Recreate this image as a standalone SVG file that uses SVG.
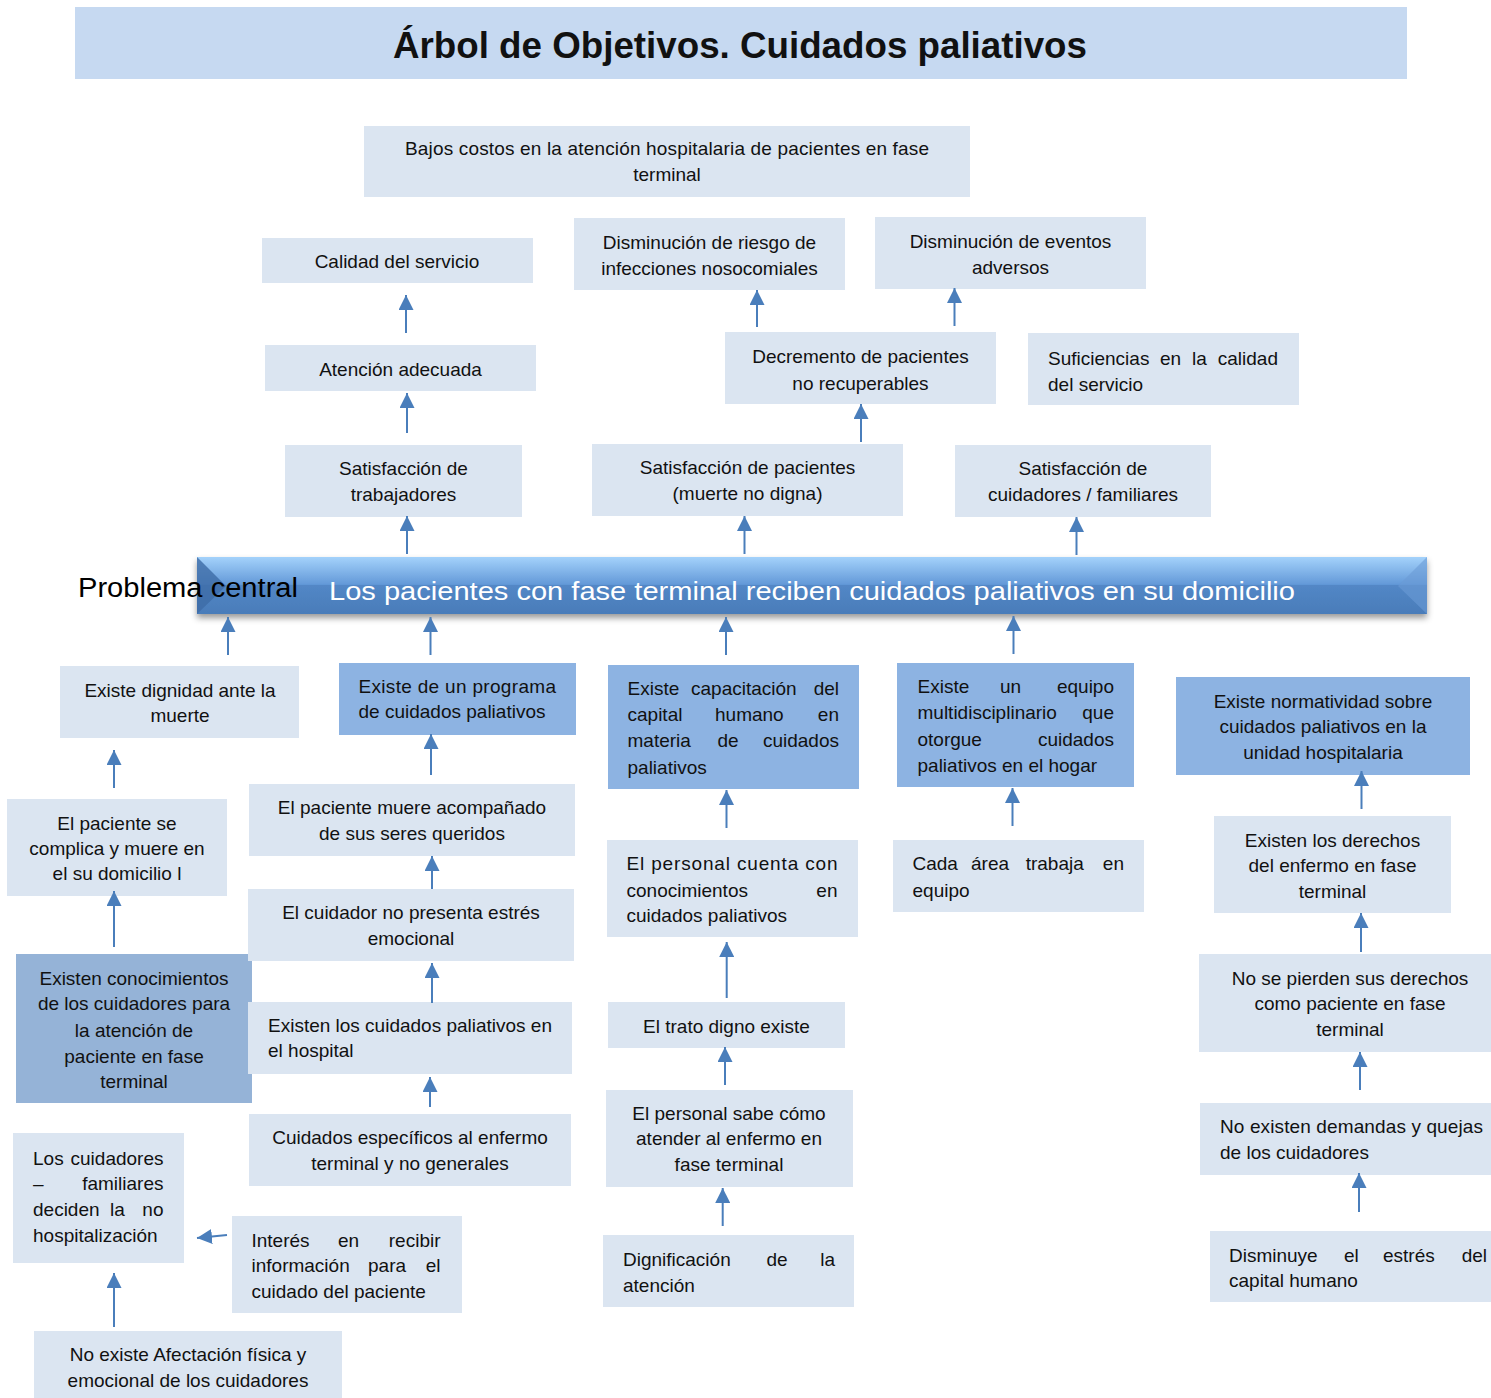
<svg xmlns="http://www.w3.org/2000/svg" width="1491" height="1398" viewBox="0 0 1491 1398">
<defs>
<style>
.n{font-family:"Liberation Sans",Arial,sans-serif;font-size:19px;fill:#111}
.m{text-anchor:middle}
.e{text-anchor:end}
.lt{fill:#dbe5f1}
.dk{fill:#8db3e2}
.md{fill:#95b3d7}
.ar line{stroke:#4a7ebb;stroke-width:2;marker-end:url(#ah)}
</style>
<marker id="ah" markerUnits="userSpaceOnUse" markerWidth="15" markerHeight="15" viewBox="0 0 15 15" refX="15" refY="7.5" orient="auto"><path d="M0,0 L15,7.5 L0,15 z" fill="#4a7ebb"/></marker>
<linearGradient id="bg" x1="0" y1="0" x2="0" y2="1">
<stop offset="0" stop-color="#a4d2fb"/><stop offset="0.48" stop-color="#6399d8"/><stop offset="0.5" stop-color="#5287c6"/><stop offset="1" stop-color="#4a7cb9"/>
</linearGradient>
<filter id="sh" x="-5%" y="-30%" width="110%" height="170%"><feDropShadow dx="0" dy="4" stdDeviation="3" flood-color="#000" flood-opacity="0.4"/></filter>
</defs>
<rect width="1491" height="1398" fill="#fff"/>

<g id="title">
<rect x="75" y="7" width="1332" height="72" fill="#c6d9f1"/>
<text x="740" y="58" class="m" font-family="'Liberation Sans',Arial,sans-serif" font-size="36" font-weight="bold" fill="#111" textLength="694" lengthAdjust="spacingAndGlyphs">Árbol de Objetivos. Cuidados paliativos</text>
</g>

<g id="n1"><rect class="lt" x="364" y="126" width="606" height="71"/>
<text class="n m"><tspan x="667" y="155" textLength="524">Bajos costos en la atención hospitalaria de pacientes en fase</tspan><tspan x="667" y="181">terminal</tspan></text></g>

<g id="n2"><rect class="lt" x="262" y="238" width="271" height="45"/>
<text class="n m" x="397" y="268">Calidad del servicio</text></g>

<g id="n3"><rect class="lt" x="574" y="218" width="271" height="72"/>
<text class="n m"><tspan x="709.5" y="249">Disminución de riesgo de</tspan><tspan x="709.5" y="275">infecciones nosocomiales</tspan></text></g>

<g id="n4"><rect class="lt" x="875" y="217" width="271" height="72"/>
<text class="n m"><tspan x="1010.5" y="248">Disminución de eventos</tspan><tspan x="1010.5" y="274">adversos</tspan></text></g>

<g id="n5"><rect class="lt" x="265" y="345" width="271" height="46"/>
<text class="n m" x="400.5" y="376">Atención adecuada</text></g>

<g id="n6"><rect class="lt" x="725" y="332" width="271" height="72"/>
<text class="n m"><tspan x="860.5" y="363">Decremento de pacientes</tspan><tspan x="860.5" y="390">no recuperables</tspan></text></g>

<g id="n7"><rect class="lt" x="1028" y="333" width="271" height="72"/>
<text class="n"><tspan x="1048" y="365">Suficiencias</tspan> <tspan x="1160" y="365">en</tspan> <tspan x="1192" y="365">la</tspan> <tspan x="1278" y="365" class="e">calidad</tspan><tspan x="1048" y="391">del servicio</tspan></text></g>

<g id="n8"><rect class="lt" x="285" y="445" width="237" height="72"/>
<text class="n m"><tspan x="403.5" y="475">Satisfacción de</tspan><tspan x="403.5" y="501">trabajadores</tspan></text></g>

<g id="n9"><rect class="lt" x="592" y="444" width="311" height="72"/>
<text class="n m"><tspan x="747.5" y="474">Satisfacción de pacientes</tspan><tspan x="747.5" y="500">(muerte no digna)</tspan></text></g>

<g id="n10"><rect class="lt" x="955" y="445" width="256" height="72"/>
<text class="n m"><tspan x="1083" y="475">Satisfacción de</tspan><tspan x="1083" y="501">cuidadores / familiares</tspan></text></g>

<g id="central">
<g filter="url(#sh)">
<rect x="197" y="557" width="1230" height="57" fill="url(#bg)"/>
</g>
<polygon points="197,557 226,586 197,614" fill="#3d6ba6" opacity="0.8"/>
<polygon points="1427,557 1398,586 1427,614" fill="#6a9bd6" opacity="0.6"/>
<text x="329" y="600" font-family="'Liberation Sans',Arial,sans-serif" font-size="26" fill="#fff" textLength="966" lengthAdjust="spacingAndGlyphs">Los pacientes con fase terminal reciben cuidados paliativos en su domicilio</text>
<text x="78" y="597" font-family="'Liberation Sans',Arial,sans-serif" font-size="27" fill="#000" textLength="220" lengthAdjust="spacingAndGlyphs">Problema central</text>
</g>

<g id="n11"><rect class="lt" x="60" y="666" width="239" height="72"/>
<text class="n m"><tspan x="180" y="697">Existe dignidad ante la</tspan><tspan x="180" y="722">muerte</tspan></text></g>

<g id="n12"><rect class="dk" x="339" y="663" width="237" height="72"/>
<text class="n"><tspan x="358.5" y="693" textLength="197.5">Existe de un programa</tspan><tspan x="358.5" y="718">de cuidados paliativos</tspan></text></g>

<g id="n13"><rect class="dk" x="608" y="665" width="251" height="124"/>
<text class="n"><tspan x="627.5" y="695">Existe</tspan> <tspan x="691" y="695">capacitación</tspan> <tspan x="839" y="695" class="e">del</tspan><tspan x="627.5" y="721">capital</tspan> <tspan x="715" y="721">humano</tspan> <tspan x="839" y="721" class="e">en</tspan><tspan x="627.5" y="747">materia</tspan> <tspan x="717.5" y="747">de</tspan> <tspan x="839" y="747" class="e">cuidados</tspan><tspan x="627.5" y="774">paliativos</tspan></text></g>

<g id="n14"><rect class="dk" x="897" y="663" width="237" height="124"/>
<text class="n"><tspan x="917.5" y="693">Existe</tspan> <tspan x="1000" y="693">un</tspan> <tspan x="1114" y="693" class="e">equipo</tspan><tspan x="917.5" y="719">multidisciplinario</tspan> <tspan x="1114" y="719" class="e">que</tspan><tspan x="917.5" y="746">otorgue</tspan> <tspan x="1114" y="746" class="e">cuidados</tspan><tspan x="917.5" y="772">paliativos en el hogar</tspan></text></g>

<g id="n15"><rect class="dk" x="1176" y="677" width="294" height="98"/>
<text class="n m"><tspan x="1323" y="708">Existe normatividad sobre</tspan><tspan x="1323" y="733">cuidados paliativos en la</tspan><tspan x="1323" y="759">unidad hospitalaria</tspan></text></g>

<g id="n16"><rect class="lt" x="7" y="799" width="220" height="97"/>
<text class="n m"><tspan x="117" y="830">El paciente se</tspan><tspan x="117" y="855">complica y muere en</tspan><tspan x="117" y="880">el su domicilio l</tspan></text></g>

<g id="n17"><rect class="lt" x="249" y="784" width="326" height="72"/>
<text class="n m"><tspan x="412" y="814">El paciente muere acompañado</tspan><tspan x="412" y="840">de sus seres queridos</tspan></text></g>

<g id="n18"><rect class="lt" x="607" y="840" width="251" height="97"/>
<text class="n"><tspan x="626.5" y="870" textLength="211">El personal cuenta con</tspan><tspan x="626.5" y="897">conocimientos</tspan> <tspan x="837.5" y="897" class="e">en</tspan><tspan x="626.5" y="922">cuidados paliativos</tspan></text></g>

<g id="n19"><rect class="lt" x="893" y="840" width="251" height="72"/>
<text class="n"><tspan x="912.5" y="870">Cada</tspan> <tspan x="971" y="870">área</tspan> <tspan x="1025.7" y="870">trabaja</tspan> <tspan x="1124" y="870" class="e">en</tspan><tspan x="912.5" y="897">equipo</tspan></text></g>

<g id="n20"><rect class="lt" x="1214" y="816" width="237" height="97"/>
<text class="n m"><tspan x="1332.5" y="847">Existen los derechos</tspan><tspan x="1332.5" y="872">del enfermo en fase</tspan><tspan x="1332.5" y="898">terminal</tspan></text></g>

<g id="n21"><rect class="md" x="16" y="954" width="236" height="149"/>
<text class="n m"><tspan x="134" y="985">Existen conocimientos</tspan><tspan x="134" y="1010">de los cuidadores para</tspan><tspan x="134" y="1037">la atención de</tspan><tspan x="134" y="1063">paciente en fase</tspan><tspan x="134" y="1088">terminal</tspan></text></g>

<g id="n22"><rect class="lt" x="248" y="889" width="326" height="72"/>
<text class="n m"><tspan x="411" y="919">El cuidador no presenta estrés</tspan><tspan x="411" y="945">emocional</tspan></text></g>

<g id="n23"><rect class="lt" x="1199" y="954" width="292" height="98"/>
<text class="n m"><tspan x="1350" y="985">No se pierden sus derechos</tspan><tspan x="1350" y="1010">como paciente en fase</tspan><tspan x="1350" y="1036">terminal</tspan></text></g>

<g id="n24"><rect class="lt" x="248" y="1002" width="324" height="72"/>
<text class="n"><tspan x="268" y="1032" textLength="284">Existen los cuidados paliativos en</tspan><tspan x="268" y="1057">el hospital</tspan></text></g>

<g id="n25"><rect class="lt" x="608" y="1002" width="237" height="46"/>
<text class="n m" x="726.5" y="1033">El trato digno existe</text></g>

<g id="n26"><rect class="lt" x="1200" y="1103" width="291" height="72"/>
<text class="n"><tspan x="1220" y="1133" textLength="263">No existen demandas y quejas</tspan><tspan x="1220" y="1159">de los cuidadores</tspan></text></g>

<g id="n27"><rect class="lt" x="249" y="1114" width="322" height="72"/>
<text class="n m"><tspan x="410" y="1144">Cuidados específicos al enfermo</tspan><tspan x="410" y="1170">terminal y no generales</tspan></text></g>

<g id="n28"><rect class="lt" x="606" y="1090" width="247" height="97"/>
<text class="n m"><tspan x="729" y="1120">El personal sabe cómo</tspan><tspan x="729" y="1145">atender al enfermo en</tspan><tspan x="729" y="1171">fase terminal</tspan></text></g>

<g id="n29"><rect class="lt" x="13" y="1133" width="171" height="130"/>
<text class="n"><tspan x="33" y="1165">Los</tspan> <tspan x="163.5" y="1165" class="e">cuidadores</tspan><tspan x="33" y="1190">–</tspan> <tspan x="163.5" y="1190" class="e">familiares</tspan><tspan x="33" y="1216">deciden</tspan> <tspan x="110" y="1216">la</tspan> <tspan x="163.5" y="1216" class="e">no</tspan><tspan x="33" y="1242">hospitalización</tspan></text></g>

<g id="n30"><rect class="lt" x="232" y="1216" width="230" height="97"/>
<text class="n"><tspan x="251.5" y="1247">Interés</tspan> <tspan x="338" y="1247">en</tspan> <tspan x="440.5" y="1247" class="e">recibir</tspan><tspan x="251.5" y="1272">información</tspan> <tspan x="368" y="1272">para</tspan> <tspan x="440.5" y="1272" class="e">el</tspan><tspan x="251.5" y="1298">cuidado del paciente</tspan></text></g>

<g id="n31"><rect class="lt" x="603" y="1235" width="251" height="72"/>
<text class="n"><tspan x="623" y="1266">Dignificación</tspan> <tspan x="766.5" y="1266">de</tspan> <tspan x="835" y="1266" class="e">la</tspan><tspan x="623" y="1292">atención</tspan></text></g>

<g id="n32"><rect class="lt" x="1210" y="1231" width="281" height="71"/>
<text class="n"><tspan x="1229" y="1262">Disminuye</tspan> <tspan x="1344" y="1262">el</tspan> <tspan x="1383" y="1262">estrés</tspan> <tspan x="1487" y="1262" class="e">del</tspan><tspan x="1229" y="1287">capital humano</tspan></text></g>

<g id="n33"><rect class="lt" x="34" y="1331" width="308" height="67"/>
<text class="n m"><tspan x="188" y="1361">No existe Afectación física y</tspan><tspan x="188" y="1387">emocional de los cuidadores</tspan></text></g>

<g id="connectors" class="ar">
<line x1="406" y1="333" x2="406" y2="295"/>
<line x1="757" y1="327" x2="757" y2="290"/>
<line x1="954.5" y1="326" x2="954.5" y2="288"/>
<line x1="407" y1="433" x2="407" y2="393"/>
<line x1="861" y1="442" x2="861" y2="404"/>
<line x1="407" y1="554" x2="407" y2="516"/>
<line x1="744.5" y1="554" x2="744.5" y2="516"/>
<line x1="1076.5" y1="555" x2="1076.5" y2="517"/>
<line x1="228" y1="655" x2="228" y2="617"/>
<line x1="430.5" y1="655" x2="430.5" y2="617"/>
<line x1="726" y1="655" x2="726" y2="617"/>
<line x1="1013.5" y1="654" x2="1013.5" y2="616"/>
<line x1="114" y1="788" x2="114" y2="750"/>
<line x1="431" y1="775" x2="431" y2="734"/>
<line x1="432" y1="889" x2="432" y2="856"/>
<line x1="432" y1="1003" x2="432" y2="963"/>
<line x1="430" y1="1107" x2="430" y2="1077"/>
<line x1="114" y1="947" x2="114" y2="891"/>
<line x1="726.5" y1="828" x2="726.5" y2="790"/>
<line x1="1012.5" y1="826" x2="1012.5" y2="788"/>
<line x1="1361.5" y1="809" x2="1361.5" y2="771"/>
<line x1="1361" y1="952" x2="1361" y2="913"/>
<line x1="726.7" y1="998" x2="726.7" y2="942"/>
<line x1="1360" y1="1090" x2="1360" y2="1052"/>
<line x1="725" y1="1085" x2="725" y2="1047"/>
<line x1="1359" y1="1212" x2="1359" y2="1173"/>
<line x1="722.7" y1="1226" x2="722.7" y2="1188"/>
<line x1="114" y1="1327" x2="114" y2="1273"/>
<line x1="227" y1="1235" x2="197" y2="1238"/>
</g>
</svg>
